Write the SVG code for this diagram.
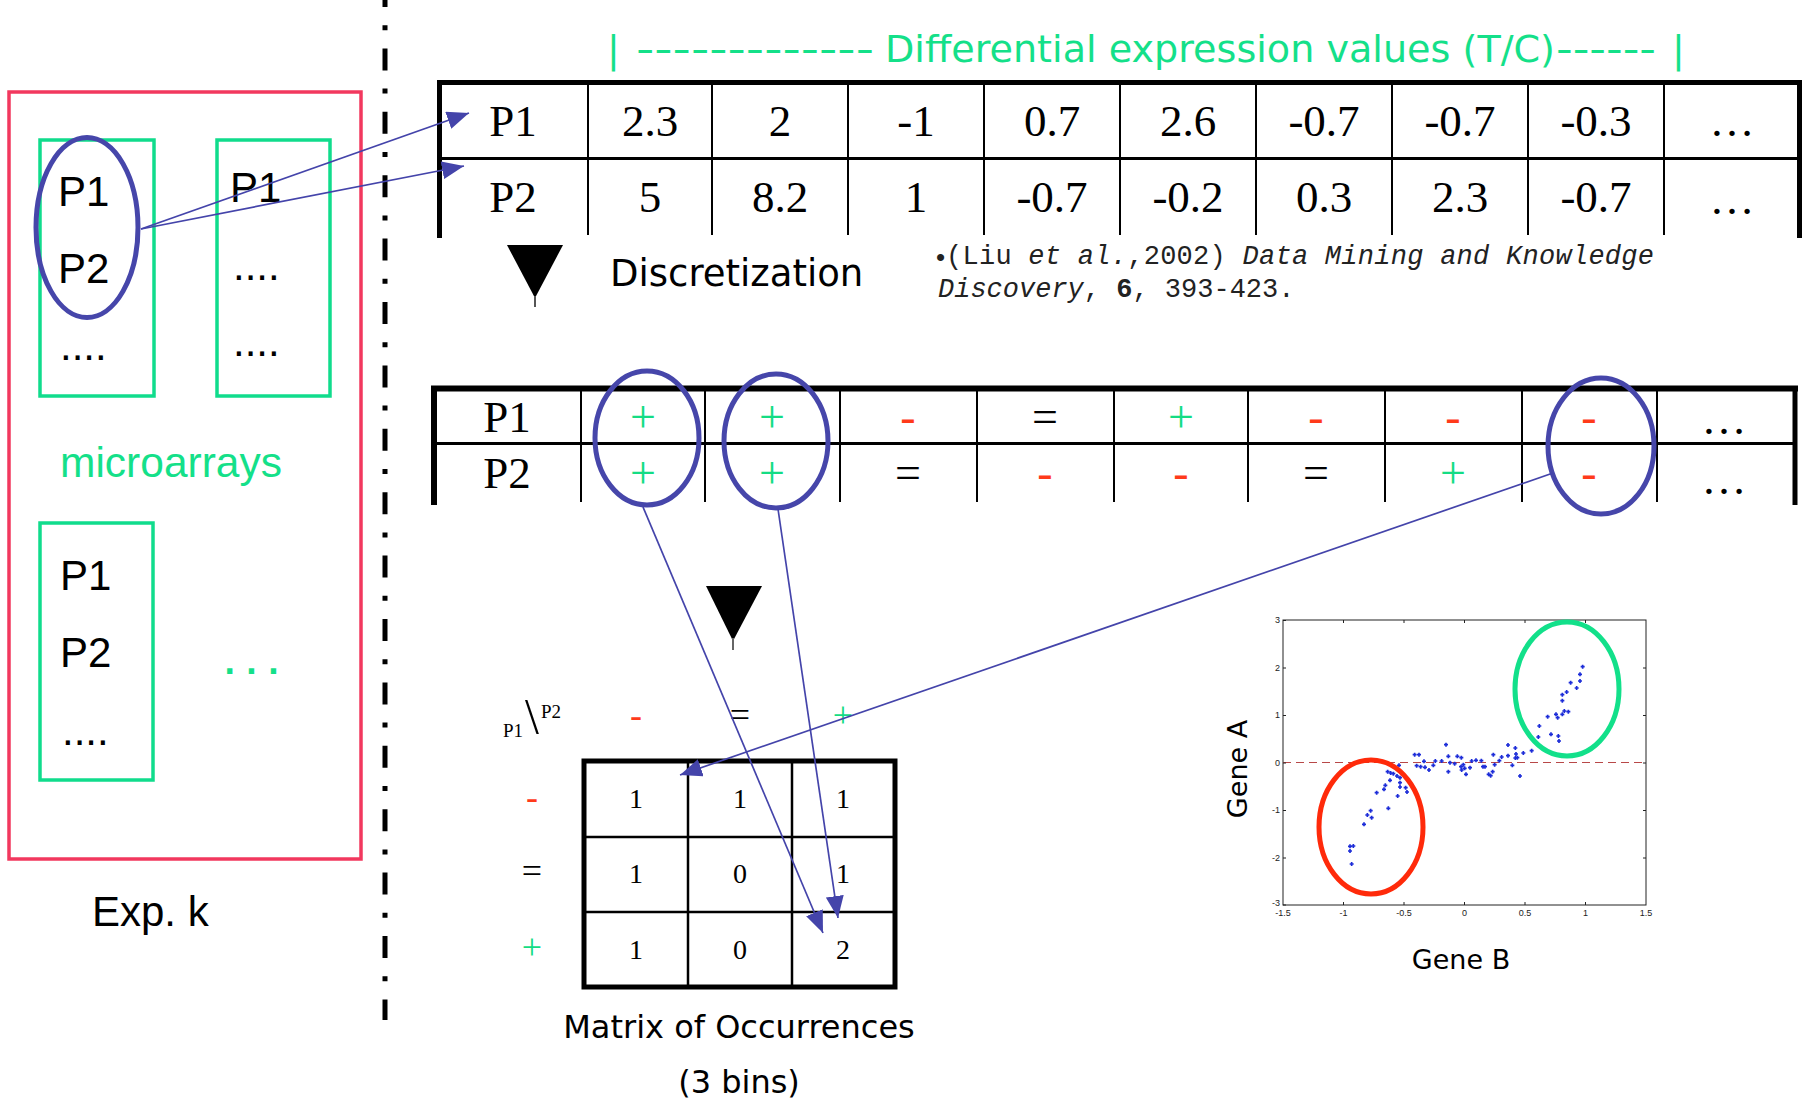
<svg xmlns="http://www.w3.org/2000/svg" xmlns:xlink="http://www.w3.org/1999/xlink" width="1802" height="1102" viewBox="0 0 1802 1102">
<style>
.sans{font-family:"Liberation Sans",Arial,sans-serif;}
.ver{font-family:"DejaVu Sans",Verdana,sans-serif;}
.ser{font-family:"Liberation Serif","Times New Roman",serif;}
.mono{font-family:"Liberation Mono","Courier New",monospace;font-size:27px;fill:#222;}
.gtxt{fill:#14e089;}
.gbox{fill:none;stroke:#10dc8c;stroke-width:3.5;}
.bell{fill:none;stroke:#4646aa;stroke-width:5;}
.conn{stroke:#4444aa;stroke-width:1.7;fill:none;marker-end:url(#ah);}
.thick{stroke:#000;stroke-width:5;}
.thin{stroke:#000;stroke-width:2;}
.c{text-anchor:middle;}
.t1{font-size:45px;}
.sym{font-size:46px;}
.red{fill:#ff3a1a;}
.grn{fill:#14dc84;}
.mx{font-size:28px;}
.tick{stroke:#222;stroke-width:1;}
.tl{font-family:"Liberation Sans",Arial,sans-serif;font-size:9px;fill:#222;}
</style>
<defs>
<marker id="ah" viewBox="0 0 22 18" refX="22" refY="9" markerWidth="22" markerHeight="18" markerUnits="userSpaceOnUse" orient="auto">
<path d="M0,0 L22,9 L0,18 z" fill="#4444aa"/>
</marker>
<path id="pt" d="M-6 0H6M0-6V6" stroke="#1c2cd8" stroke-width="5"/>
</defs>
<rect width="1802" height="1102" fill="#fff"/>

<!-- separator -->
<line x1="385" y1="0" x2="385" y2="1020" stroke="#000" stroke-width="5" stroke-dasharray="22 18.2 5 18.2" stroke-dashoffset="15"/>

<g id="exp-k">
<rect x="9" y="92" width="352" height="767" fill="none" stroke="#f2385e" stroke-width="3.5"/>
<text class="sans gtxt" x="60" y="477" font-size="42.5">microarrays</text>
<text class="sans" x="92" y="926" font-size="42">Exp. k</text>
</g>

<g id="array-1">
<rect class="gbox" x="40" y="140" width="114" height="256"/>
<text class="sans" x="58" y="206" font-size="42">P1</text>
<text class="sans" x="58" y="283" font-size="42">P2</text>
<text class="sans" x="60" y="360" font-size="42">....</text>
<ellipse class="bell" cx="87" cy="227.5" rx="51" ry="90"/>
</g>

<g id="array-2">
<rect class="gbox" x="217" y="140" width="113" height="256"/>
<text class="sans" x="230" y="202" font-size="42">P1</text>
<text class="sans" x="233" y="280" font-size="42">....</text>
<text class="sans" x="233" y="356" font-size="42">....</text>
</g>

<g id="array-3">
<rect class="gbox" x="40" y="523" width="113" height="257"/>
<text class="sans" x="60" y="590" font-size="42">P1</text>
<text class="sans" x="60" y="667" font-size="42">P2</text>
<text class="sans" x="62" y="745" font-size="42">....</text>
<text class="ver gtxt" x="224" y="674" font-size="30" font-weight="bold">. . .</text>
</g>

<g id="header">
<text class="ver gtxt" x="607" y="62" font-size="38">|</text>
<text class="ver gtxt" x="636" y="62" font-size="38" textLength="238" lengthAdjust="spacingAndGlyphs">-------------</text>
<text class="ver gtxt" x="885" y="62" font-size="38" textLength="670" lengthAdjust="spacingAndGlyphs">Differential expression values (T/C)</text>
<text class="ver gtxt" x="1556" y="62" font-size="38" textLength="100" lengthAdjust="spacingAndGlyphs">------</text>
<text class="ver gtxt" x="1672" y="62" font-size="38">|</text>
</g>

<g id="table-values">
<line class="thick" x1="437" y1="82.5" x2="1802" y2="82.5"/>
<line class="thick" x1="439.5" y1="80" x2="439.5" y2="238"/>
<line class="thick" x1="1799.5" y1="80" x2="1799.5" y2="238"/>
<line x1="439" y1="158.5" x2="1800" y2="158.5" stroke="#000" stroke-width="3"/>
<g class="thin">
<line x1="588" y1="84" x2="588" y2="235"/><line x1="712" y1="84" x2="712" y2="235"/>
<line x1="848" y1="84" x2="848" y2="235"/><line x1="984" y1="84" x2="984" y2="235"/>
<line x1="1120" y1="84" x2="1120" y2="235"/><line x1="1256" y1="84" x2="1256" y2="235"/>
<line x1="1392" y1="84" x2="1392" y2="235"/><line x1="1528" y1="84" x2="1528" y2="235"/>
<line x1="1664" y1="84" x2="1664" y2="235"/>
</g>
<g class="ser t1 c">
<text x="513" y="136">P1</text><text x="650" y="136">2.3</text><text x="780" y="136">2</text>
<text x="916" y="136">-1</text><text x="1052" y="136">0.7</text><text x="1188" y="136">2.6</text>
<text x="1324" y="136">-0.7</text><text x="1460" y="136">-0.7</text><text x="1596" y="136">-0.3</text>
<text x="1732" y="136">…</text>
<text x="513" y="212">P2</text><text x="650" y="212">5</text><text x="780" y="212">8.2</text>
<text x="916" y="212">1</text><text x="1052" y="212">-0.7</text><text x="1188" y="212">-0.2</text>
<text x="1324" y="212">0.3</text><text x="1460" y="212">2.3</text><text x="1596" y="212">-0.7</text>
<text x="1732" y="214">…</text>
</g>
</g>

<g id="step-discretization">
<polygon points="507,245 563,245 535,298" fill="#000"/>
<line x1="535" y1="296" x2="535" y2="307" stroke="#555" stroke-width="2"/>
<text class="ver" x="610" y="286" font-size="37">Discretization</text>
</g>

<g id="citation">
<text class="sans" x="936" y="266" font-size="26" fill="#222">•</text>
<text class="mono" x="946" y="264" textLength="708" lengthAdjust="spacing">(Liu <tspan font-style="italic">et al.</tspan>,2002) <tspan font-style="italic">Data Mining and Knowledge</tspan></text>
<text class="mono" x="938" y="297"><tspan font-style="italic">Discovery</tspan>, <tspan font-weight="bold">6</tspan>, 393-423.</text>
</g>

<g id="table-discrete">
<line x1="431" y1="388.5" x2="1798" y2="388.5" stroke="#000" stroke-width="6"/>
<line x1="434" y1="386" x2="434" y2="505" stroke="#000" stroke-width="6"/>
<line class="thick" x1="1795" y1="386" x2="1795" y2="505"/>
<line x1="434" y1="443.5" x2="1795" y2="443.5" stroke="#000" stroke-width="3"/>
<g class="thin">
<line x1="581" y1="391" x2="581" y2="502"/><line x1="705" y1="391" x2="705" y2="502"/>
<line x1="840" y1="391" x2="840" y2="502"/><line x1="977" y1="391" x2="977" y2="502"/>
<line x1="1114" y1="391" x2="1114" y2="502"/><line x1="1248" y1="391" x2="1248" y2="502"/>
<line x1="1385" y1="391" x2="1385" y2="502"/><line x1="1522" y1="391" x2="1522" y2="502"/>
<line x1="1657" y1="391" x2="1657" y2="502"/>
</g>
<g class="ser c">
<text class="t1" x="507" y="432">P1</text>
<text class="sym grn" x="643" y="432">+</text><text class="sym grn" x="772" y="432">+</text>
<text class="sym red" x="908" y="432">-</text><text class="sym" x="1045" y="432">=</text>
<text class="sym grn" x="1181" y="432">+</text><text class="sym red" x="1316" y="432">-</text>
<text class="sym red" x="1453" y="432">-</text><text class="sym red" x="1589" y="432">-</text>
<text class="t1" x="1724" y="434">…</text>
<text class="t1" x="507" y="488">P2</text>
<text class="sym grn" x="643" y="488">+</text><text class="sym grn" x="772" y="488">+</text>
<text class="sym" x="908" y="488">=</text><text class="sym red" x="1045" y="488">-</text>
<text class="sym red" x="1181" y="488">-</text><text class="sym" x="1316" y="488">=</text>
<text class="sym grn" x="1453" y="488">+</text><text class="sym red" x="1589" y="488">-</text>
<text class="t1" x="1724" y="494">…</text>
</g>
<ellipse class="bell" cx="647" cy="438" rx="52" ry="67"/>
<ellipse class="bell" cx="776" cy="441" rx="52" ry="67"/>
<ellipse class="bell" cx="1601" cy="446" rx="53" ry="68"/>
</g>

<g id="step-count">
<polygon points="706,586 762,586 733,641" fill="#000"/>
<line x1="733" y1="638" x2="733" y2="650" stroke="#666" stroke-width="2"/>
</g>

<g id="matrix">
<g class="ser">
<text x="503" y="737" font-size="19">P1</text>
<text x="525" y="733" font-size="50">\</text>
<text x="541" y="718" font-size="19">P2</text>
</g>
<g class="ser c" font-size="36">
<text class="red" x="636" y="727">-</text><text x="740" y="727">=</text><text class="grn" x="843" y="727">+</text>
<text class="red" x="532" y="809">-</text><text x="532" y="883">=</text><text class="grn" x="532" y="959">+</text>
</g>
<rect x="584" y="761" width="311" height="226" fill="none" stroke="#000" stroke-width="5"/>
<g stroke="#000" stroke-width="2.5">
<line x1="688" y1="761" x2="688" y2="987"/><line x1="792" y1="761" x2="792" y2="987"/>
<line x1="584" y1="837" x2="895" y2="837"/><line x1="584" y1="912" x2="895" y2="912"/>
</g>
<g class="ser c mx">
<text x="636" y="808">1</text><text x="740" y="808">1</text><text x="843" y="808">1</text>
<text x="636" y="883">1</text><text x="740" y="883">0</text><text x="843" y="883">1</text>
<text x="636" y="959">1</text><text x="740" y="959">0</text><text x="843" y="959">2</text>
</g>
<text class="ver c" x="739" y="1038" font-size="32">Matrix of Occurrences</text>
<text class="ver c" x="739" y="1093" font-size="32">(3 bins)</text>
</g>

<g id="scatter">
<rect x="1283" y="620" width="363" height="285" fill="#fff" stroke="#222" stroke-width="1"/>
<line x1="1283" y1="762.5" x2="1646" y2="762.5" stroke="#b84848" stroke-width="1.2" stroke-dasharray="8 5"/>
<g class="tick">
<path d="M1283 620.5h3M1283 668h3M1283 715.5h3M1283 763h3M1283 810.5h3M1283 858h3M1283 905h3"/>
<path d="M1646 668h-3M1646 715.5h-3M1646 763h-3M1646 810.5h-3M1646 858h-3"/>
<path d="M1343.5 620v3M1404 620v3M1464.5 620v3M1525 620v3M1585.5 620v3"/>
<path d="M1343.5 905v-3M1404 905v-3M1464.5 905v-3M1525 905v-3M1585.5 905v-3"/>
</g>
<g class="tl" text-anchor="end">
<text x="1280" y="623">3</text><text x="1280" y="670.5">2</text><text x="1280" y="718">1</text>
<text x="1280" y="765.5">0</text><text x="1280" y="813">-1</text><text x="1280" y="860.5">-2</text>
<text x="1280" y="906">-3</text>
</g>
<g class="tl" text-anchor="middle">
<text x="1283" y="916">-1.5</text><text x="1343.5" y="916">-1</text><text x="1404" y="916">-0.5</text>
<text x="1464.5" y="916">0</text><text x="1525" y="916">0.5</text><text x="1585.5" y="916">1</text>
<text x="1646" y="916">1.5</text>
</g>
<g transform="translate(1200 600) scale(0.33333)">
<use xlink:href="#pt" x="1148" y="200"/><use xlink:href="#pt" x="1140" y="223"/><use xlink:href="#pt" x="1140" y="243"/>
<use xlink:href="#pt" x="1112" y="248"/><use xlink:href="#pt" x="1130" y="264"/><use xlink:href="#pt" x="1100" y="276"/>
<use xlink:href="#pt" x="1087" y="284"/><use xlink:href="#pt" x="1087" y="302"/><use xlink:href="#pt" x="1093" y="333"/>
<use xlink:href="#pt" x="1105" y="335"/><use xlink:href="#pt" x="1087" y="343"/><use xlink:href="#pt" x="1068" y="343"/>
<use xlink:href="#pt" x="1073" y="353"/><use xlink:href="#pt" x="1043" y="350"/><use xlink:href="#pt" x="1018" y="378"/>
<use xlink:href="#pt" x="1015" y="411"/><use xlink:href="#pt" x="1053" y="403"/><use xlink:href="#pt" x="1075" y="408"/>
<use xlink:href="#pt" x="1077" y="423"/><use xlink:href="#pt" x="995" y="452"/>
<use xlink:href="#pt" x="738" y="434"/><use xlink:href="#pt" x="644" y="464"/><use xlink:href="#pt" x="657" y="464"/>
<use xlink:href="#pt" x="672" y="484"/><use xlink:href="#pt" x="650" y="497"/><use xlink:href="#pt" x="662" y="500"/>
<use xlink:href="#pt" x="687" y="510"/><use xlink:href="#pt" x="675" y="502"/><use xlink:href="#pt" x="700" y="496"/>
<use xlink:href="#pt" x="706" y="483"/><use xlink:href="#pt" x="725" y="483"/><use xlink:href="#pt" x="745" y="469"/>
<use xlink:href="#pt" x="745" y="515"/><use xlink:href="#pt" x="750" y="488"/><use xlink:href="#pt" x="764" y="491"/>
<use xlink:href="#pt" x="772" y="469"/><use xlink:href="#pt" x="784" y="473"/><use xlink:href="#pt" x="790" y="494"/>
<use xlink:href="#pt" x="783" y="500"/><use xlink:href="#pt" x="785" y="510"/><use xlink:href="#pt" x="794" y="505"/>
<use xlink:href="#pt" x="798" y="523"/><use xlink:href="#pt" x="810" y="503"/><use xlink:href="#pt" x="815" y="483"/>
<use xlink:href="#pt" x="828" y="481"/><use xlink:href="#pt" x="844" y="482"/><use xlink:href="#pt" x="849" y="500"/>
<use xlink:href="#pt" x="855" y="500"/><use xlink:href="#pt" x="866" y="523"/><use xlink:href="#pt" x="872" y="527"/>
<use xlink:href="#pt" x="880" y="464"/><use xlink:href="#pt" x="878" y="515"/><use xlink:href="#pt" x="884" y="494"/>
<use xlink:href="#pt" x="898" y="482"/><use xlink:href="#pt" x="905" y="471"/><use xlink:href="#pt" x="924" y="435"/>
<use xlink:href="#pt" x="924" y="467"/><use xlink:href="#pt" x="937" y="496"/><use xlink:href="#pt" x="946" y="444"/>
<use xlink:href="#pt" x="948" y="462"/><use xlink:href="#pt" x="952" y="473"/><use xlink:href="#pt" x="960" y="528"/>
<use xlink:href="#pt" x="970" y="459"/><use xlink:href="#pt" x="946" y="474"/>
<use xlink:href="#pt" x="597" y="496"/><use xlink:href="#pt" x="600" y="533"/><use xlink:href="#pt" x="591" y="528"/>
<use xlink:href="#pt" x="580" y="521"/><use xlink:href="#pt" x="572" y="519"/><use xlink:href="#pt" x="563" y="515"/>
<use xlink:href="#pt" x="570" y="541"/><use xlink:href="#pt" x="556" y="556"/><use xlink:href="#pt" x="552" y="568"/>
<use xlink:href="#pt" x="530" y="578"/><use xlink:href="#pt" x="600" y="548"/><use xlink:href="#pt" x="600" y="561"/>
<use xlink:href="#pt" x="617" y="563"/><use xlink:href="#pt" x="621" y="576"/><use xlink:href="#pt" x="593" y="588"/>
<use xlink:href="#pt" x="565" y="625"/><use xlink:href="#pt" x="512" y="632"/><use xlink:href="#pt" x="502" y="645"/>
<use xlink:href="#pt" x="515" y="653"/><use xlink:href="#pt" x="492" y="673"/><use xlink:href="#pt" x="460" y="738"/>
<use xlink:href="#pt" x="450" y="739"/><use xlink:href="#pt" x="450" y="753"/><use xlink:href="#pt" x="455" y="792"/>
</g>
<ellipse cx="1567" cy="689" rx="52" ry="67" fill="none" stroke="#12e08a" stroke-width="5"/>
<ellipse cx="1371" cy="827" rx="52" ry="67" fill="none" stroke="#ff2a0a" stroke-width="5"/>
<text class="ver c" transform="translate(1247 769) rotate(-90)" font-size="27">Gene A</text>
<text class="ver c" x="1461" y="969" font-size="27">Gene B</text>
</g>

<g id="connectors">
<line class="conn" x1="141" y1="229" x2="469" y2="113"/>
<line class="conn" x1="141" y1="229" x2="464" y2="166"/>
<line class="conn" x1="643" y1="507" x2="823" y2="933"/>
<line class="conn" x1="778" y1="509" x2="838" y2="918"/>
<line class="conn" x1="1553" y1="473" x2="680" y2="775"/>
</g>
</svg>
